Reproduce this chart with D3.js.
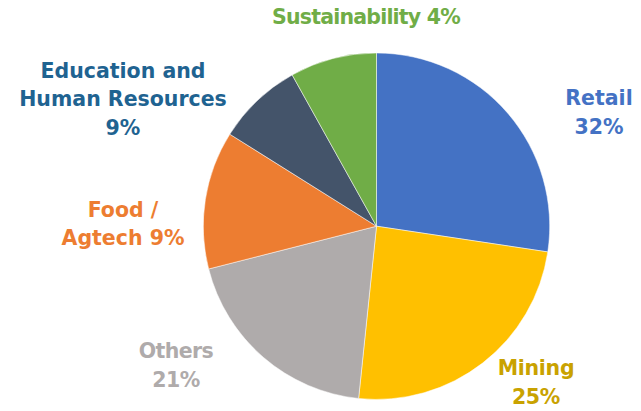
<!DOCTYPE html>
<html><head><meta charset="utf-8">
<script src="https://cdn.jsdelivr.net/npm/d3@7"></script>
<style>html,body{margin:0;padding:0;background:#fff;}svg{display:block;}</style>
</head><body>
<svg id="chart" width="641" height="411"></svg>
<script>
const categories = ["Retail", "Mining", "Others", "Food / Agtech", "Education and Human Resources", "Sustainability"];
const values = [27.4, 24.3, 19.4, 12.9, 8.0, 8.1];
const labelLines = [
  ["Retail", "32%"],
  ["Mining", "25%"],
  ["Others", "21%"],
  ["Food /", "Agtech 9%"],
  ["Education and", "Human Resources", "9%"],
  ["Sustainability 4%"]
];
const sliceColors = ["#4472C4", "#FFC000", "#AFABAB", "#ED7D31", "#44546A", "#70AD47"];
const labelColors = ["#4472C4", "#C9A200", "#AFABAB", "#ED7D31", "#1F6391", "#70AD47"];

// layout (not data)
const labelPos = [[599, 105], [536, 375], [176, 358], [123, 216.5], [123, 77.5], [366, 23.5]];
const labelSpacing = [0, -0.3, -0.6, 0, 0, -0.8];

const svg = d3.select("#chart");
const cx = 376.5, cy = 226.2, r = 173.2;
const data = categories.map((c, i) => ({c, v: values[i], i}));
const pie = d3.pie().value(d => d.v).sort(null);
const arc = d3.arc().innerRadius(0).outerRadius(r);
const g = svg.append("g").attr("transform", `translate(${cx},${cy})`);
g.selectAll("path").data(pie(data)).enter().append("path")
  .attr("d", arc)
  .attr("fill", d => sliceColors[d.data.i])
  .attr("stroke", "#ffffff").attr("stroke-width", 0.5);

const lineH = 28.5;
data.forEach((d, i) => {
  const t = svg.append("text")
    .attr("x", labelPos[i][0]).attr("y", labelPos[i][1])
    .attr("text-anchor", "middle")
    .attr("font-family", "'DejaVu Sans', sans-serif")
    .attr("font-weight", "bold")
    .attr("font-size", 20.5)
    .attr("letter-spacing", labelSpacing[i])
    .attr("fill", labelColors[i]);
  labelLines[i].forEach((ln, k) => {
    t.append("tspan").attr("x", labelPos[i][0]).attr("dy", k === 0 ? 0 : lineH).text(ln);
  });
});
</script>
</body></html>
